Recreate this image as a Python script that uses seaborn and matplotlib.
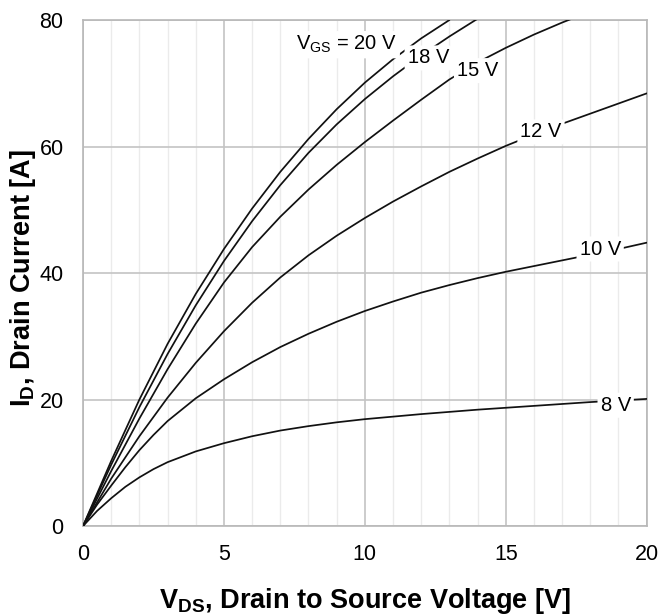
import numpy as np
import pandas as pd
import matplotlib
matplotlib.use("Agg")
import matplotlib.pyplot as plt
import seaborn as sns
from matplotlib.ticker import MultipleLocator

# V_DS sample points and drain current for each V_GS curve
vds_8v = [0, 0.5, 1, 1.5, 2, 2.5, 3, 4, 5, 6, 7, 8, 9, 10, 12, 14, 16, 18, 20]
id_8v = [0, 2.4, 4.4, 6.2, 7.7, 9.0, 10.1, 11.8, 13.1, 14.2, 15.1, 15.8, 16.4, 16.9,
         17.7, 18.4, 19.0, 19.6, 20.1]

vds_10v = [0, 0.5, 1, 1.5, 2, 2.5, 3, 4, 5, 6, 7, 8, 9, 10, 11, 12, 13, 14, 15, 16, 17, 18, 19, 20]
id_10v = [0, 3.4, 6.4, 9.3, 12.0, 14.4, 16.6, 20.2, 23.2, 25.9, 28.3, 30.4, 32.3, 34.0,
          35.5, 36.9, 38.1, 39.2, 40.2, 41.1, 42.0, 42.9, 43.8, 44.8]

vds_12v = [0, 1, 2, 3, 4, 5, 6, 7, 8, 9, 10, 11, 12, 13, 14, 15, 16, 17, 18, 19, 20]
id_12v = [0, 7.5, 14.2, 20.3, 25.8, 30.8, 35.3, 39.3, 42.8, 45.9, 48.7, 51.3, 53.7,
          56.0, 58.1, 60.1, 61.9, 63.6, 65.2, 66.8, 68.4]

vds_15v = [0, 1, 2, 3, 4, 5, 6, 7, 8, 9, 10, 11, 12, 13, 14, 15, 16, 17, 17.4]
id_15v = [0, 8.7, 17.0, 24.8, 32.0, 38.5, 44.1, 48.9, 53.2, 57.1, 60.7, 64.1, 67.4,
          70.6, 73.3, 75.6, 77.7, 79.6, 80.3]

vds_18v = [0, 1, 2, 3, 4, 5, 6, 7, 8, 9, 10, 11, 12, 13, 14]
id_18v = [0, 9.7, 18.8, 27.2, 34.9, 41.9, 48.2, 53.9, 59.0, 63.5, 67.5, 71.1, 74.4, 77.4, 80.2]

vds_20v = [0, 1, 2, 3, 4, 5, 6, 7, 8, 9, 10, 11, 12, 13]
id_20v = [0, 10.3, 20.0, 28.8, 36.7, 43.8, 50.2, 56.0, 61.2, 65.9, 70.1, 73.8, 77.1, 80.0]

curve_names = ["8 V", "10 V", "12 V", "15 V", "18 V", "20 V"]
label_texts = ["8 V", "10 V", "12 V", "15 V", "18 V", "V$_{\\mathregular{GS}}$ = 20 V"]
label_x = [18.9, 18.35, 16.25, 14.0, 12.25, 9.35]
label_y = [19.1, 43.8, 62.3, 72.0, 74.0, 76.1]

curves = [(vds_8v, id_8v), (vds_10v, id_10v), (vds_12v, id_12v),
          (vds_15v, id_15v), (vds_18v, id_18v), (vds_20v, id_20v)]

frames = []
for name, (vx, iy) in zip(curve_names, curves):
    frames.append(pd.DataFrame({"vds": vx, "id": iy, "vgs": name}))
df = pd.concat(frames, ignore_index=True)

sns.set_theme(style="white")
plt.rcParams["font.family"] = ["Liberation Sans", "DejaVu Sans"]
plt.rcParams["mathtext.fontset"] = "custom"
plt.rcParams["mathtext.rm"] = "Liberation Sans"
plt.rcParams["mathtext.bf"] = "Liberation Sans:bold"

fig = plt.figure(figsize=(6.6, 6.16), dpi=100)
ax = fig.add_axes([0.1258, 0.146, 0.854, 0.8215])

sns.lineplot(data=df, x="vds", y="id", hue="vgs", hue_order=curve_names,
             palette=["#111111"] * len(curve_names), linewidth=1.25,
             legend=False, sort=False, estimator=None, ax=ax, zorder=3)

ax.set_xlim(0, 20)
ax.set_ylim(0, 80)
ax.xaxis.set_major_locator(MultipleLocator(5))
ax.xaxis.set_minor_locator(MultipleLocator(1))
ax.yaxis.set_major_locator(MultipleLocator(20))
ax.grid(which="major", axis="both", color="#c4c4c4", linewidth=1.2, zorder=1)
ax.grid(which="minor", axis="x", color="#ebebeb", linewidth=1.0, zorder=0)
ax.set_axisbelow(True)
for s in ax.spines.values():
    s.set_color("#b8b8b8")
    s.set_linewidth(1.2)
ax.tick_params(which="both", length=0, labelsize=15.5, colors="#000000")
ax.tick_params(axis="x", pad=13)
ax.tick_params(axis="y", pad=14)

for txt, lx, ly in zip(label_texts, label_x, label_y):
    ax.text(lx, ly, txt, fontsize=14.5, ha="center", va="center", color="#000000",
            zorder=5,
            bbox=dict(boxstyle="round,pad=0.15", facecolor="white", edgecolor="none"))

ax.set_xlabel("V$_{\\mathregular{DS}}$, Drain to Source Voltage [V]",
              fontsize=19.5, fontweight="bold", color="#000000")
ax.set_ylabel("I$_{\\mathregular{D}}$, Drain Current [A]",
              fontsize=19.5, fontweight="bold", color="#000000")
ax.xaxis.set_label_coords(0.5, -0.118)
ax.yaxis.set_label_coords(-0.08, 0.49)

fig.savefig("out.png", dpi=100)
